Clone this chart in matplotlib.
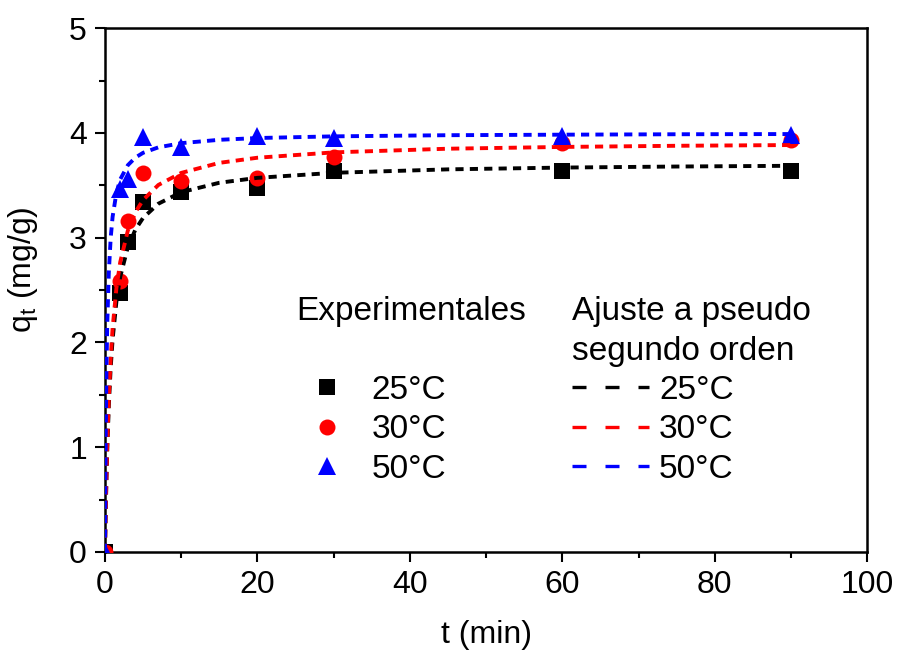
import matplotlib
matplotlib.use("Agg")
import matplotlib.pyplot as plt
from matplotlib.lines import Line2D

plt.rcParams['font.family'] = ['Liberation Sans', 'DejaVu Sans']
plt.rcParams['mathtext.fontset'] = 'custom'
plt.rcParams['mathtext.rm'] = 'Liberation Sans'
plt.rcParams['mathtext.it'] = 'Liberation Sans'

# Experimental data
t_exp = [0, 2, 3, 5, 10, 20, 30, 60, 90]
q_25 = [0, 2.47, 2.96, 3.34, 3.44, 3.47, 3.64, 3.64, 3.64]
q_30 = [0, 2.59, 3.16, 3.62, 3.54, 3.57, 3.77, 3.90, 3.93]
q_50 = [0, 3.46, 3.56, 3.96, 3.87, 3.97, 3.95, 3.97, 3.98]

# Pseudo-second-order fit curves
t_fit = [0, 0.1, 0.2, 0.3, 0.5, 0.75, 1, 1.5, 2, 3, 4, 5, 7, 10, 15, 20, 30, 45, 60, 75, 90]
f_25 = [0, 0.399, 0.720, 0.985, 1.395, 1.762, 2.029, 2.391, 2.626, 2.911, 3.079, 3.189,
        3.324, 3.434, 3.524, 3.571, 3.619, 3.652, 3.669, 3.679, 3.686]
f_30 = [0, 0.420, 0.759, 1.038, 1.470, 1.857, 2.138, 2.520, 2.767, 3.068, 3.244, 3.360,
        3.503, 3.618, 3.714, 3.763, 3.814, 3.849, 3.866, 3.877, 3.884]
f_50 = [0, 1.143, 1.778, 2.182, 2.667, 3.000, 3.200, 3.429, 3.556, 3.692, 3.765, 3.810,
        3.862, 3.902, 3.934, 3.951, 3.967, 3.978, 3.983, 3.987, 3.989]

labels = ['25°C', '30°C', '50°C']
colors = ['black', 'red', 'blue']
markers = ['s', 'o', '^']
msizes = [11, 11.5, 13.5]

fig = plt.figure(figsize=(9.02, 6.54), dpi=100)
ax = fig.add_axes([0.1164, 0.156, 0.845, 0.801])

exp_sets = [q_25, q_30, q_50]
fit_sets = [f_25, f_30, f_50]
for q, c, m, ms in zip(exp_sets, colors, markers, msizes):
    ax.plot(t_exp, q, linestyle='none', marker=m, color=c, markersize=ms,
            markeredgewidth=0, zorder=3)
for f, c in zip(fit_sets, colors):
    ax.plot(t_fit, f, linestyle=(0, (2.1, 1.6)), color=c, linewidth=2.8, zorder=4)

ax.set_xlim(0, 100)
ax.set_ylim(0, 5)
ax.set_xticks([0, 20, 40, 60, 80, 100])
ax.set_xticks(range(0, 101, 10), minor=True)
ax.set_yticks([0, 1, 2, 3, 4, 5])
ax.set_yticks([0.5, 1.5, 2.5, 3.5, 4.5], minor=True)
ax.tick_params(which='major', direction='out', length=7, width=1.5, labelsize=23, pad=6)
ax.tick_params(which='minor', direction='out', length=4, width=1.5)
for s in ax.spines.values():
    s.set_linewidth(1.8)

ax.set_xlabel('t (min)', fontsize=23)
ax.set_ylabel('q$_\\mathregular{t}$ (mg/g)', fontsize=23)
ax.xaxis.set_label_coords(0.5, -0.13)
ax.yaxis.set_label_coords(-0.085, 0.538)

# Legends
h_exp = [Line2D([], [], linestyle='none', marker=m, color=c, markersize=ms,
                markeredgewidth=0)
         for c, m, ms in zip(colors, markers, [11, 11.5, 13])]
h_fit = [Line2D([], [], linestyle=(0, (4.2, 5.7)), color=c, linewidth=2.4) for c in colors]

leg1 = ax.legend(h_exp, labels, title='Experimentales\n ', loc='upper left',
                 bbox_to_anchor=(0.2507, 0.488), frameon=False, fontsize=24,
                 title_fontsize=24, alignment='left', handlelength=1.86,
                 handletextpad=0.4, labelspacing=0.25, borderpad=0, borderaxespad=0)
leg1.get_title().set_linespacing(1.35)
ax.add_artist(leg1)
leg2 = ax.legend(h_fit, labels, title='Ajuste a pseudo\nsegundo orden', loc='upper left',
                 bbox_to_anchor=(0.613, 0.488), frameon=False, fontsize=24,
                 title_fontsize=24, alignment='left', handlelength=2.3,
                 handletextpad=0.3, labelspacing=0.25, borderpad=0, borderaxespad=0)
leg2.get_title().set_linespacing(1.35)

fig.savefig('out.png', dpi=100)
